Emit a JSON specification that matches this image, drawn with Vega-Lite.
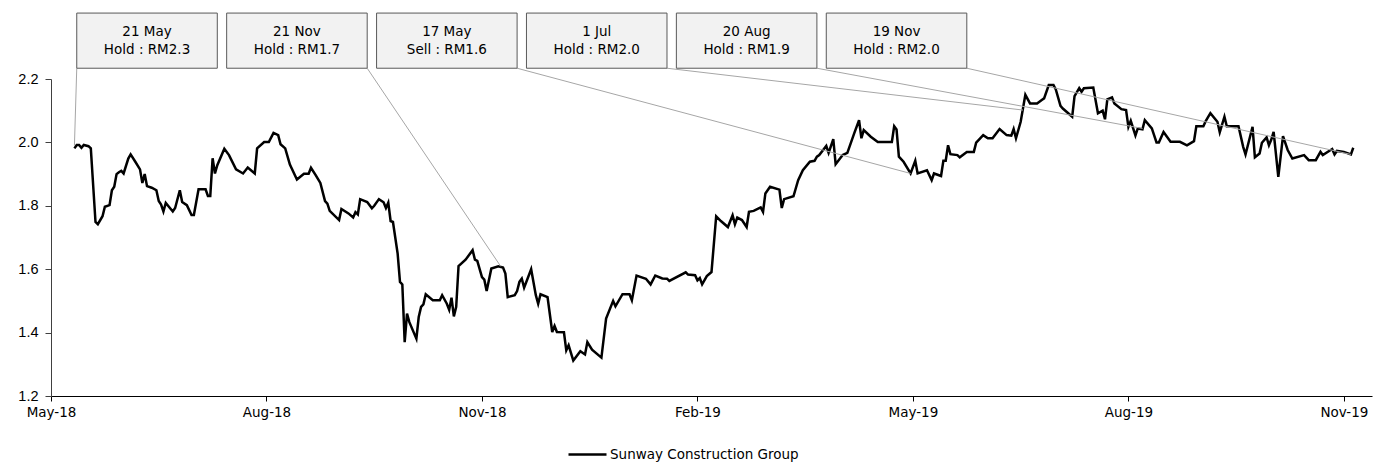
{
  "$schema": "https://vega.github.io/schema/vega-lite/v6.json",
  "width": 1321,
  "height": 317,
  "autosize": {"type": "none"},
  "padding": {"left": 51, "top": 79, "right": 2, "bottom": 67},
  "background": "white",
  "config": {
    "view": {"stroke": null},
    "axis": {"grid": false, "title": null}
  },
  "datasets": {
    "prices": [
      {"date":"2018-05-21","close":1.981},{"date":"2018-05-22","close":1.992},{"date":"2018-05-23","close":1.992},{"date":"2018-05-24","close":1.983},{"date":"2018-05-25","close":1.992},{"date":"2018-05-27","close":1.988},{"date":"2018-05-28","close":1.981},{"date":"2018-05-30","close":1.749},{"date":"2018-05-31","close":1.742},
      {"date":"2018-06-02","close":1.767},{"date":"2018-06-03","close":1.797},{"date":"2018-06-05","close":1.802},{"date":"2018-06-06","close":1.849},{"date":"2018-06-07","close":1.860},{"date":"2018-06-08","close":1.900},{"date":"2018-06-09","close":1.906},{"date":"2018-06-10","close":1.910},{"date":"2018-06-11","close":1.902},{"date":"2018-06-13","close":1.949},{"date":"2018-06-14","close":1.962},{"date":"2018-06-16","close":1.939},{"date":"2018-06-18","close":1.915},{"date":"2018-06-19","close":1.872},{"date":"2018-06-20","close":1.900},{"date":"2018-06-21","close":1.862},{"date":"2018-06-23","close":1.857},{"date":"2018-06-25","close":1.849},{"date":"2018-06-26","close":1.815},{"date":"2018-06-27","close":1.804},{"date":"2018-06-28","close":1.782},{"date":"2018-06-29","close":1.809},
      {"date":"2018-07-02","close":1.782},{"date":"2018-07-03","close":1.793},{"date":"2018-07-05","close":1.849},{"date":"2018-07-06","close":1.812},{"date":"2018-07-08","close":1.802},{"date":"2018-07-10","close":1.771},{"date":"2018-07-11","close":1.771},{"date":"2018-07-13","close":1.852},{"date":"2018-07-16","close":1.852},{"date":"2018-07-17","close":1.831},{"date":"2018-07-18","close":1.831},{"date":"2018-07-19","close":1.950},{"date":"2018-07-20","close":1.902},{"date":"2018-07-21","close":1.928},{"date":"2018-07-24","close":1.980},{"date":"2018-07-26","close":1.960},{"date":"2018-07-29","close":1.915},
      {"date":"2018-08-01","close":1.902},{"date":"2018-08-03","close":1.921},{"date":"2018-08-06","close":1.902},{"date":"2018-08-07","close":1.981},{"date":"2018-08-10","close":2.001},{"date":"2018-08-12","close":2.001},{"date":"2018-08-14","close":2.030},{"date":"2018-08-16","close":2.023},{"date":"2018-08-17","close":1.994},{"date":"2018-08-19","close":1.981},{"date":"2018-08-21","close":1.930},{"date":"2018-08-24","close":1.883},{"date":"2018-08-27","close":1.901},{"date":"2018-08-29","close":1.901},{"date":"2018-08-30","close":1.920},
      {"date":"2018-09-01","close":1.897},{"date":"2018-09-03","close":1.872},{"date":"2018-09-05","close":1.815},{"date":"2018-09-06","close":1.807},{"date":"2018-09-07","close":1.784},{"date":"2018-09-11","close":1.755},{"date":"2018-09-12","close":1.790},{"date":"2018-09-15","close":1.776},{"date":"2018-09-17","close":1.763},{"date":"2018-09-18","close":1.780},{"date":"2018-09-19","close":1.773},{"date":"2018-09-20","close":1.821},{"date":"2018-09-23","close":1.812},{"date":"2018-09-25","close":1.792},{"date":"2018-09-26","close":1.800},{"date":"2018-09-28","close":1.821},{"date":"2018-09-30","close":1.811},
      {"date":"2018-10-01","close":1.793},{"date":"2018-10-02","close":1.810},{"date":"2018-10-03","close":1.752},{"date":"2018-10-04","close":1.749},{"date":"2018-10-06","close":1.649},{"date":"2018-10-07","close":1.560},{"date":"2018-10-08","close":1.552},{"date":"2018-10-09","close":1.370},{"date":"2018-10-10","close":1.460},{"date":"2018-10-11","close":1.433},{"date":"2018-10-14","close":1.381},{"date":"2018-10-15","close":1.449},{"date":"2018-10-16","close":1.481},{"date":"2018-10-17","close":1.489},{"date":"2018-10-18","close":1.521},{"date":"2018-10-21","close":1.502},{"date":"2018-10-24","close":1.502},{"date":"2018-10-25","close":1.518},{"date":"2018-10-27","close":1.491},{"date":"2018-10-28","close":1.472},{"date":"2018-10-29","close":1.510},{"date":"2018-10-30","close":1.451},{"date":"2018-10-31","close":1.481},
      {"date":"2018-11-01","close":1.610},{"date":"2018-11-04","close":1.630},{"date":"2018-11-07","close":1.660},{"date":"2018-11-08","close":1.630},{"date":"2018-11-09","close":1.626},{"date":"2018-11-11","close":1.575},{"date":"2018-11-12","close":1.567},{"date":"2018-11-13","close":1.531},{"date":"2018-11-15","close":1.602},{"date":"2018-11-18","close":1.609},{"date":"2018-11-20","close":1.605},{"date":"2018-11-21","close":1.586},{"date":"2018-11-22","close":1.512},{"date":"2018-11-25","close":1.518},{"date":"2018-11-26","close":1.531},{"date":"2018-11-27","close":1.560},{"date":"2018-11-28","close":1.570},{"date":"2018-11-29","close":1.542},
      {"date":"2018-12-02","close":1.600},{"date":"2018-12-04","close":1.518},{"date":"2018-12-05","close":1.491},{"date":"2018-12-06","close":1.521},{"date":"2018-12-09","close":1.512},{"date":"2018-12-11","close":1.402},{"date":"2018-12-12","close":1.421},{"date":"2018-12-13","close":1.402},{"date":"2018-12-16","close":1.401},{"date":"2018-12-17","close":1.344},{"date":"2018-12-18","close":1.360},{"date":"2018-12-20","close":1.312},{"date":"2018-12-23","close":1.341},{"date":"2018-12-25","close":1.331},{"date":"2018-12-26","close":1.370},{"date":"2018-12-28","close":1.346},
      {"date":"2019-01-01","close":1.321},{"date":"2019-01-03","close":1.444},{"date":"2019-01-06","close":1.500},{"date":"2019-01-07","close":1.483},{"date":"2019-01-10","close":1.521},{"date":"2019-01-13","close":1.521},{"date":"2019-01-14","close":1.502},{"date":"2019-01-16","close":1.580},{"date":"2019-01-20","close":1.570},{"date":"2019-01-22","close":1.552},{"date":"2019-01-24","close":1.580},{"date":"2019-01-27","close":1.571},{"date":"2019-01-29","close":1.570},{"date":"2019-01-30","close":1.563},
      {"date":"2019-02-06","close":1.590},{"date":"2019-02-07","close":1.583},{"date":"2019-02-10","close":1.581},{"date":"2019-02-11","close":1.565},{"date":"2019-02-12","close":1.572},{"date":"2019-02-13","close":1.552},{"date":"2019-02-15","close":1.578},{"date":"2019-02-17","close":1.591},{"date":"2019-02-19","close":1.767},{"date":"2019-02-21","close":1.752},{"date":"2019-02-24","close":1.733},{"date":"2019-02-26","close":1.770},{"date":"2019-02-27","close":1.742},{"date":"2019-02-28","close":1.763},
      {"date":"2019-03-02","close":1.755},{"date":"2019-03-04","close":1.733},{"date":"2019-03-05","close":1.781},{"date":"2019-03-07","close":1.784},{"date":"2019-03-10","close":1.795},{"date":"2019-03-11","close":1.781},{"date":"2019-03-12","close":1.839},{"date":"2019-03-14","close":1.860},{"date":"2019-03-18","close":1.851},{"date":"2019-03-19","close":1.793},{"date":"2019-03-20","close":1.821},{"date":"2019-03-24","close":1.830},{"date":"2019-03-26","close":1.881},{"date":"2019-03-28","close":1.912},{"date":"2019-03-31","close":1.939},
      {"date":"2019-04-02","close":1.942},{"date":"2019-04-03","close":1.955},{"date":"2019-04-04","close":1.960},{"date":"2019-04-07","close":1.989},{"date":"2019-04-08","close":1.967},{"date":"2019-04-10","close":2.010},{"date":"2019-04-11","close":1.931},{"date":"2019-04-14","close":1.960},{"date":"2019-04-16","close":1.967},{"date":"2019-04-19","close":2.030},{"date":"2019-04-21","close":2.070},{"date":"2019-04-22","close":2.013},{"date":"2019-04-23","close":2.039},{"date":"2019-04-26","close":2.018},{"date":"2019-04-29","close":2.001},
      {"date":"2019-05-05","close":2.001},{"date":"2019-05-06","close":2.051},{"date":"2019-05-07","close":2.041},{"date":"2019-05-08","close":1.955},{"date":"2019-05-10","close":1.939},{"date":"2019-05-13","close":1.902},{"date":"2019-05-15","close":1.942},{"date":"2019-05-16","close":1.902},{"date":"2019-05-20","close":1.912},{"date":"2019-05-22","close":1.881},{"date":"2019-05-23","close":1.902},{"date":"2019-05-26","close":1.894},{"date":"2019-05-27","close":1.942},{"date":"2019-05-28","close":1.942},{"date":"2019-05-29","close":1.991},{"date":"2019-05-30","close":1.963},
      {"date":"2019-06-02","close":1.960},{"date":"2019-06-03","close":1.953},{"date":"2019-06-06","close":1.970},{"date":"2019-06-09","close":1.970},{"date":"2019-06-10","close":1.999},{"date":"2019-06-13","close":2.023},{"date":"2019-06-15","close":2.013},{"date":"2019-06-17","close":2.013},{"date":"2019-06-20","close":2.042},{"date":"2019-06-23","close":2.023},{"date":"2019-06-25","close":2.021},{"date":"2019-06-26","close":2.042},{"date":"2019-06-27","close":2.013},{"date":"2019-06-29","close":2.065},
      {"date":"2019-07-01","close":2.150},{"date":"2019-07-03","close":2.123},{"date":"2019-07-06","close":2.123},{"date":"2019-07-08","close":2.134},{"date":"2019-07-09","close":2.139},{"date":"2019-07-11","close":2.181},{"date":"2019-07-13","close":2.181},{"date":"2019-07-14","close":2.167},{"date":"2019-07-16","close":2.115},{"date":"2019-07-17","close":2.107},{"date":"2019-07-21","close":2.081},{"date":"2019-07-22","close":2.146},{"date":"2019-07-24","close":2.171},{"date":"2019-07-25","close":2.160},{"date":"2019-07-26","close":2.171},{"date":"2019-07-30","close":2.173},
      {"date":"2019-08-01","close":2.092},{"date":"2019-08-03","close":2.100},{"date":"2019-08-04","close":2.073},{"date":"2019-08-05","close":2.136},{"date":"2019-08-07","close":2.142},{"date":"2019-08-08","close":2.123},{"date":"2019-08-11","close":2.105},{"date":"2019-08-13","close":2.102},{"date":"2019-08-14","close":2.049},{"date":"2019-08-15","close":2.068},{"date":"2019-08-17","close":2.022},{"date":"2019-08-18","close":2.044},{"date":"2019-08-20","close":2.041},{"date":"2019-08-21","close":2.070},{"date":"2019-08-24","close":2.044},{"date":"2019-08-26","close":2.000},{"date":"2019-08-27","close":2.000},{"date":"2019-08-29","close":2.033},
      {"date":"2019-09-01","close":2.002},{"date":"2019-09-05","close":2.002},{"date":"2019-09-08","close":1.991},{"date":"2019-09-11","close":2.004},{"date":"2019-09-12","close":2.051},{"date":"2019-09-15","close":2.051},{"date":"2019-09-16","close":2.067},{"date":"2019-09-18","close":2.092},{"date":"2019-09-21","close":2.065},{"date":"2019-09-22","close":2.032},{"date":"2019-09-24","close":2.081},{"date":"2019-09-25","close":2.051},{"date":"2019-09-30","close":2.051},
      {"date":"2019-10-02","close":1.986},{"date":"2019-10-03","close":1.962},{"date":"2019-10-06","close":2.049},{"date":"2019-10-07","close":1.953},{"date":"2019-10-09","close":1.965},{"date":"2019-10-10","close":1.999},{"date":"2019-10-12","close":2.016},{"date":"2019-10-13","close":1.991},{"date":"2019-10-14","close":2.009},{"date":"2019-10-15","close":2.033},{"date":"2019-10-17","close":1.891},{"date":"2019-10-19","close":2.020},{"date":"2019-10-21","close":1.976},{"date":"2019-10-23","close":1.949},{"date":"2019-10-28","close":1.960},{"date":"2019-10-30","close":1.944},
      {"date":"2019-11-02","close":1.944},{"date":"2019-11-04","close":1.970},{"date":"2019-11-05","close":1.960},{"date":"2019-11-09","close":1.979},{"date":"2019-11-10","close":1.962},{"date":"2019-11-11","close":1.973},{"date":"2019-11-14","close":1.970},{"date":"2019-11-17","close":1.962},{"date":"2019-11-18","close":1.983}
    ],
    "notes": [
      {"label":"21 May\nHold : RM2.3","box_start":"2018-05-22","box_end":"2018-07-21","box_mid":"2018-06-21","line_from":"2018-05-22","line_to":"2018-05-21","target":1.99},
      {"label":"21 Nov\nHold : RM1.7","box_start":"2018-07-25","box_end":"2018-09-23","box_mid":"2018-08-24","line_from":"2018-09-23","line_to":"2018-11-19","target":1.609},
      {"label":"17 May\nSell : RM1.6","box_start":"2018-09-27","box_end":"2018-11-26","box_mid":"2018-10-27","line_from":"2018-11-26","line_to":"2019-05-13","target":1.902},
      {"label":"1 Jul\nHold : RM2.0","box_start":"2018-11-30","box_end":"2019-01-29","box_mid":"2018-12-30","line_from":"2019-01-29","line_to":"2019-06-30","target":2.102},
      {"label":"20 Aug\nHold : RM1.9","box_start":"2019-02-02","box_end":"2019-04-03","box_mid":"2019-03-04","line_from":"2019-04-03","line_to":"2019-08-20","target":2.044},
      {"label":"19 Nov\nHold : RM2.0","box_start":"2019-04-07","box_end":"2019-06-06","box_mid":"2019-05-07","line_from":"2019-06-06","line_to":"2019-11-17","target":1.962}
    ]
  },
  "layer": [
    {
      "data": {"name": "prices"},
      "mark": {"type": "line", "strokeWidth": 2.5, "color": "#000000", "strokeJoin": "miter"},
      "encoding": {
        "x": {
          "field": "date", "type": "temporal",
          "scale": {"type": "utc", "domain": [{"year": 2018, "month": 5, "date": 11, "utc": true}, {"year": 2019, "month": 11, "date": 26, "utc": true}]},
          "axis": {
            "values": [
              {"year": 2018, "month": 5, "date": 11, "utc": true},
              {"year": 2018, "month": 8, "date": 11, "utc": true},
              {"year": 2018, "month": 11, "date": 11, "utc": true},
              {"year": 2019, "month": 2, "date": 11, "utc": true},
              {"year": 2019, "month": 5, "date": 14, "utc": true},
              {"year": 2019, "month": 8, "date": 14, "utc": true},
              {"year": 2019, "month": 11, "date": 14, "utc": true}
            ],
            "format": "%b-%y",
            "labelFont": "DejaVu Sans", "labelFontSize": 13.5, "labelColor": "#000000",
            "labelPadding": 4, "labelFlush": false, "labelOverlap": false,
            "tickSize": 5, "tickColor": "#000000", "domainColor": "#000000", "domainWidth": 1, "tickWidth": 1
          }
        },
        "y": {
          "field": "close", "type": "quantitative",
          "scale": {"domain": [1.2, 2.2], "nice": false, "zero": false},
          "axis": {
            "values": [1.2, 1.4, 1.6, 1.8, 2.0, 2.2],
            "format": ".1f",
            "labelFont": "Liberation Sans", "labelFontSize": 14.5, "labelColor": "#000000",
            "labelPadding": 7, "tickSize": 6, "tickColor": "#404040", "domainColor": "#404040"
          }
        },
        "color": {
          "datum": "Sunway Construction Group", "type": "nominal",
          "scale": {"range": ["#000000"]},
          "legend": {
            "orient": "none", "legendX": 516, "legendY": 355, "title": null,
            "symbolType": "stroke", "symbolSize": 1444, "symbolStrokeWidth": 2.5,
            "labelFont": "DejaVu Sans", "labelFontSize": 13.5, "labelColor": "#000000", "labelOffset": 2, "labelLimit": 400
          }
        }
      }
    },
    {
      "data": {"name": "notes"},
      "mark": {"type": "rule", "color": "#a6a6a6", "strokeWidth": 1},
      "encoding": {
        "x": {"field": "line_to", "type": "temporal"},
        "x2": {"field": "line_from"},
        "y": {"field": "target", "type": "quantitative"},
        "y2": {"datum": 2.234}
      }
    },
    {
      "data": {"name": "notes"},
      "mark": {"type": "rect", "fill": "#f2f2f2", "stroke": "#595959", "strokeWidth": 1},
      "encoding": {
        "x": {"field": "box_start", "type": "temporal"},
        "x2": {"field": "box_end"},
        "y": {"datum": 2.408, "type": "quantitative"},
        "y2": {"datum": 2.234}
      }
    },
    {
      "data": {"name": "notes"},
      "mark": {"type": "text", "lineBreak": "\n", "font": "DejaVu Sans", "fontSize": 13.5, "lineHeight": 18.3, "color": "#000000", "baseline": "middle", "align": "center"},
      "encoding": {
        "x": {"field": "box_mid", "type": "temporal"},
        "y": {"datum": 2.349, "type": "quantitative"},
        "text": {"field": "label", "type": "nominal"}
      }
    }
  ]
}
